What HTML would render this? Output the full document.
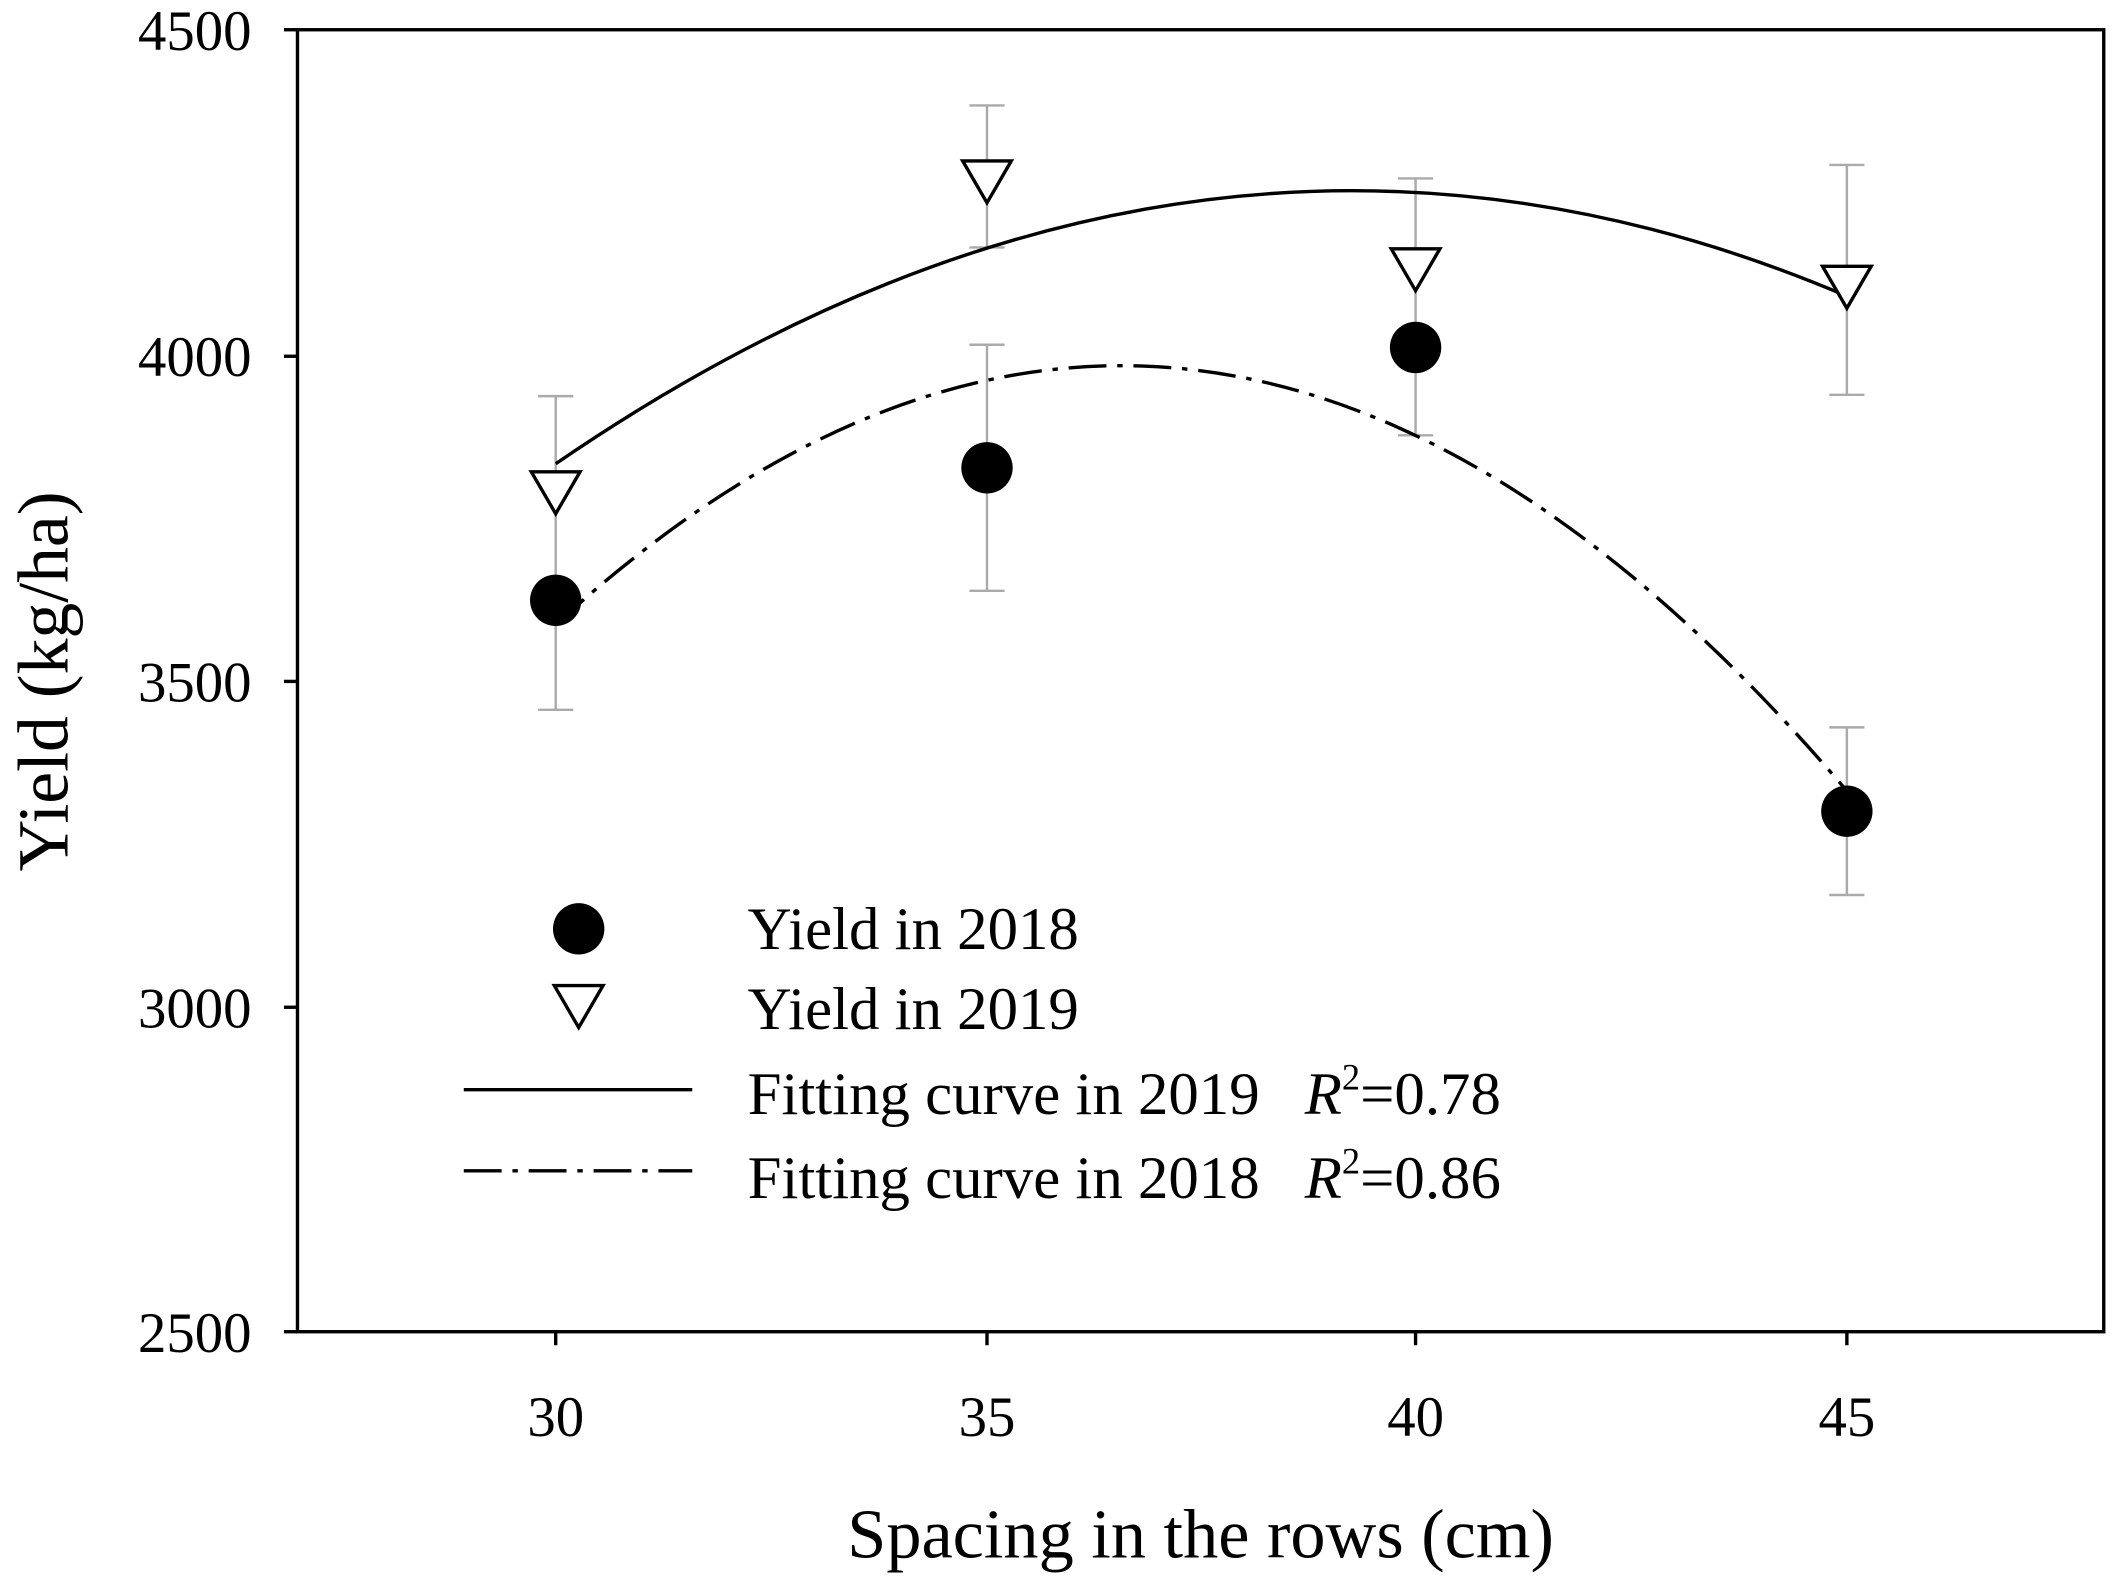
<!DOCTYPE html>
<html><head><meta charset="utf-8"><style>
html,body{margin:0;padding:0;background:#fff;}
svg{display:block;}
text{font-family:"Liberation Serif",serif;fill:#000;}
</style></head><body>
<svg width="2120" height="1584" viewBox="0 0 1568 1171.6" xmlns="http://www.w3.org/2000/svg">
<rect x="220" y="22" width="1336" height="963" fill="none" stroke="#000" stroke-width="2.5"/>
<g stroke="#000" stroke-width="2.5">
<line x1="210" y1="22" x2="220" y2="22"/><line x1="210" y1="263.5" x2="220" y2="263.5"/>
<line x1="210" y1="504" x2="220" y2="504"/><line x1="210" y1="745" x2="220" y2="745"/>
<line x1="210" y1="985" x2="220" y2="985"/>
<line x1="411" y1="985" x2="411" y2="995"/><line x1="730" y1="985" x2="730" y2="995"/>
<line x1="1047" y1="985" x2="1047" y2="995"/><line x1="1366" y1="985" x2="1366" y2="995"/>
</g>
<g font-size="42" text-anchor="end">
<text x="186" y="37">4500</text><text x="186" y="278">4000</text>
<text x="186" y="519">3500</text><text x="186" y="760">3000</text><text x="186" y="1000">2500</text>
</g>
<g font-size="42" text-anchor="middle">
<text x="411" y="1062">30</text><text x="730" y="1062">35</text>
<text x="1047" y="1062">40</text><text x="1366" y="1062">45</text>
</g>
<text x="888" y="1152" font-size="52" text-anchor="middle">Spacing in the rows (cm)</text>
<text transform="translate(50,504) rotate(-90)" font-size="53" text-anchor="middle">Yield (kg/ha)</text>
<g stroke="#aaa" stroke-width="1.8" fill="none">
<path d="M411,293V525M398,293h26M398,525h26"/>
<path d="M730,78V183M717,78h26M717,183h26M730,255V437M717,255h26M717,437h26"/>
<path d="M1047,132V322M1034,132h26M1034,322h26"/>
<path d="M1366,122V292M1353,122h26M1353,292h26M1366,538V662M1353,538h26M1353,662h26"/>
</g>
<path d="M411,343 Q888.5,15.6 1366,219" fill="none" stroke="#000" stroke-width="2.5"/>
<path d="M411,462 Q888.5,25 1366,585" fill="none" stroke="#000" stroke-width="2.5" stroke-dasharray="28,8,4,8"/>
<g fill="#000">
<circle cx="411" cy="444" r="19"/><circle cx="730" cy="346" r="19"/>
<circle cx="1047" cy="257" r="19"/><circle cx="1366" cy="600" r="19"/>
<circle cx="428" cy="687" r="19"/>
</g>
<g fill="#fff" stroke="#000" stroke-width="2.5">
<path d="M393,349h36l-18,31z"/><path d="M712,119h36l-18,31z"/>
<path d="M1029,184h36l-18,31z"/><path d="M1348,197h36l-18,31z"/>
<path d="M410,729h36l-18,31z"/>
</g>
<line x1="343" y1="806" x2="512" y2="806" stroke="#000" stroke-width="2.5"/>
<line x1="343" y1="866" x2="512" y2="866" stroke="#000" stroke-width="2.5" stroke-dasharray="28,8,4,8"/>
<g font-size="45">
<text x="553" y="702">Yield in 2018</text>
<text x="553" y="761">Yield in 2019</text>
<text x="553" y="824">Fitting curve in 2019</text>
<text x="553" y="886">Fitting curve in 2018</text>
<text x="965" y="824"><tspan font-style="italic">R</tspan><tspan font-size="27" dy="-18">2</tspan><tspan dy="18">=0.78</tspan></text>
<text x="965" y="886"><tspan font-style="italic">R</tspan><tspan font-size="27" dy="-18">2</tspan><tspan dy="18">=0.86</tspan></text>
</g>
</svg>
</body></html>
